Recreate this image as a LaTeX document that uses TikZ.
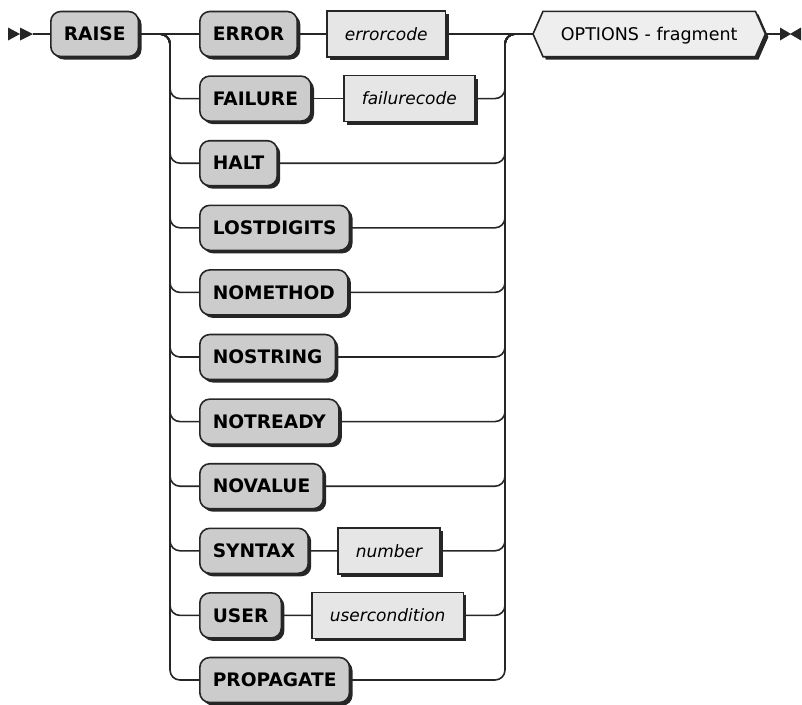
\documentclass[tikz,border=0pt]{standalone}
\usepackage{fontspec}
\setmainfont{DejaVu Sans}
\usetikzlibrary{shadows}
\definecolor{kwfill}{HTML}{CCCCCC}
\definecolor{ntfill}{HTML}{E6E6E6}
\definecolor{hxfill}{HTML}{EEEEEE}
\definecolor{ink}{HTML}{262626}
\pgfdeclarelayer{bg}
\pgfsetlayers{bg,main}
\tikzset{
  wire/.style={draw=ink, line width=1.6pt, rounded corners=10pt},
  shade3/.style={general shadow={fill=ink, shadow xshift=3pt, shadow yshift=-3pt}},
  kw/.style={draw=ink, fill=kwfill, rounded corners=10pt, line width=1.6pt,
    minimum height=45pt, inner xsep=13pt, inner ysep=0pt, anchor=west,
    text height=13.4pt, text depth=0pt,
    font=\fontsize{18.6}{22}\selectfont\bfseries, shade3},
  nt/.style={draw=ink, fill=ntfill, line width=1.6pt,
    minimum height=46pt, inner xsep=18pt, inner ysep=0pt, anchor=west,
    text height=12.4pt, text depth=0pt,
    font=\fontsize{17}{20}\selectfont\itshape, shade3},
  hextext/.style={minimum width=212pt, minimum height=45pt, inner sep=0pt,
    text height=12.6pt, text depth=0pt, anchor=west,
    font=\fontsize{17.5}{20}\selectfont},
  hexpath/.style={draw=ink, fill=hxfill, line width=1.6pt, shade3},
  tip/.style={fill=ink}
}
\begin{document}
\begin{tikzpicture}[x=1pt,y=-1pt]
\useasboundingbox (0,0) rectangle (802,704);

% start marker
\coordinate (s) at (33,34);
\fill[tip] (8,27.5) -- (20,34) -- (8,40.5) -- cycle;
\fill[tip] (20,27.5) -- (33,34) -- (20,40.5) -- cycle;

\node[kw] (raise) at (50,34) {RAISE};

\coordinate (L) at (170,34);
\coordinate (R) at (505,34);

\foreach \n/\t/\k in {error/ERROR/0, failure/FAILURE/1, halt/HALT/2,
  lostdigits/LOSTDIGITS/3, nomethod/NOMETHOD/4, nostring/NOSTRING/5,
  notready/NOTREADY/6, novalue/NOVALUE/7, syntax/SYNTAX/8, user/USER/9,
  propagate/PROPAGATE/10}
  {\node[kw] (\n) at (199,{34+64.6*\k}) {\t};}

\node[nt] (errorcode) at (326,34) {errorcode};
\node[nt] (failurecode) at (343,98.6) {failurecode};
\node[nt] (number) at (337,550.8) {number};
\node[nt] (usercond) at (311,615.4) {usercondition};

\node[hextext] (opt) at (543,34) {OPTIONS - fragment};
\begin{pgfonlayer}{bg}
\path[hexpath] ([xshift=-10pt]opt.west) -- (opt.north west) -- (opt.north east)
  -- ([xshift=10pt]opt.east) -- (opt.south east) -- (opt.south west) -- cycle;
\end{pgfonlayer}

\coordinate (e) at (780,34);
\fill[tip] (780,27.5) -- (791,34) -- (780,40.5) -- cycle;
\fill[tip] (801,27.5) -- (790,34) -- (801,40.5) -- cycle;

% connectors
\draw[wire] (s) -- (raise.west);
\draw[wire] (raise.east) -- (error.west);
\draw[wire] (error.east) -- (errorcode.west);
\draw[wire] (errorcode.east) -- ([xshift=-10pt]opt.west);
\draw[wire] ([xshift=10pt]opt.east) -- (e);

\foreach \n in {failure,halt,lostdigits,nomethod,nostring,notready,novalue,syntax,user,propagate}
  {\draw[wire] ([xshift=-12pt]L) -- (L) |- (\n.west);}

\draw[wire] (failure.east) -- (failurecode.west);
\draw[wire] (syntax.east) -- (number.west);
\draw[wire] (user.east) -- (usercond.west);

\foreach \n in {failurecode,halt,lostdigits,nomethod,nostring,notready,novalue,number,usercond,propagate}
  {\draw[wire] (\n.east) -| (R) -- ([xshift=12pt]R);}
\end{tikzpicture}
\end{document}
